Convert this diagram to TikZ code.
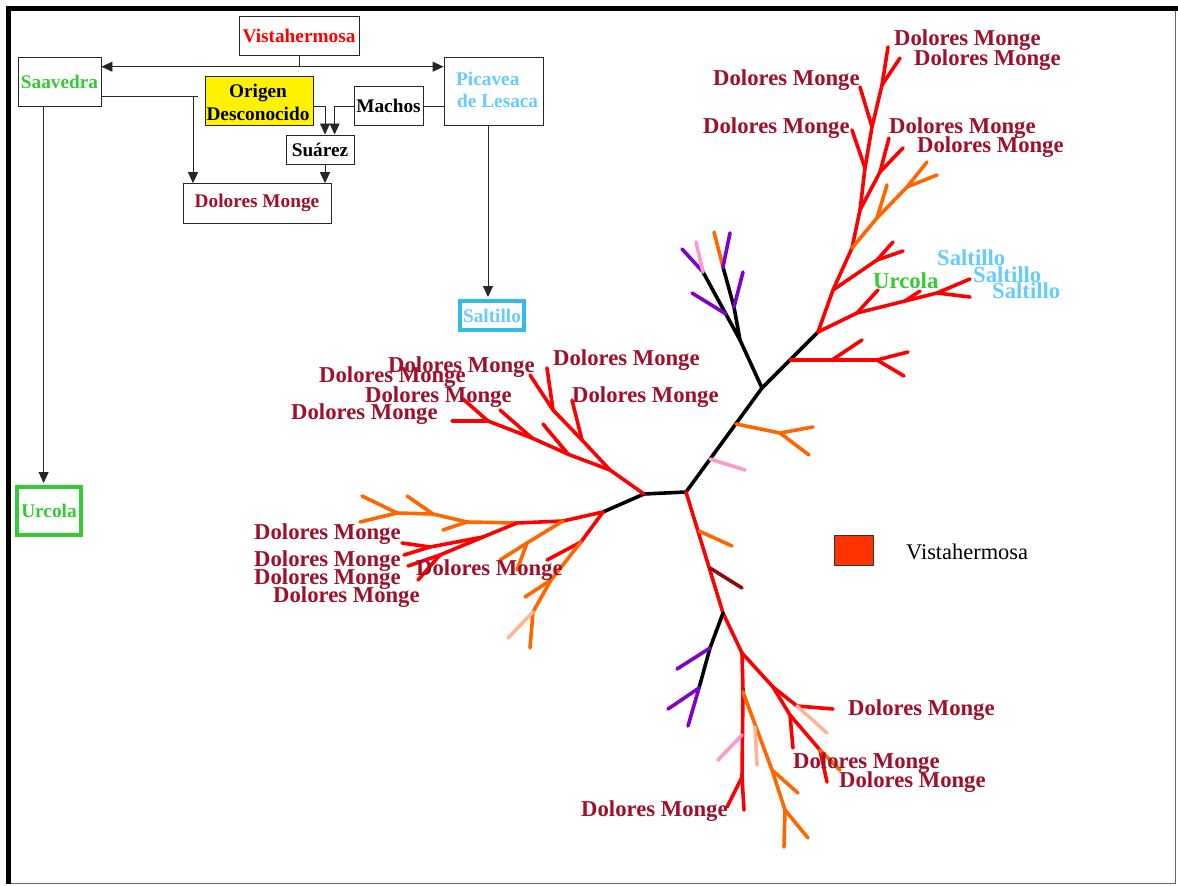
\documentclass[tikz,border=0pt]{standalone}
\usepackage{fontspec}
\setmainfont{Liberation Serif}
\usetikzlibrary{arrows.meta}
\definecolor{dmred}{RGB}{160,16,42}
\definecolor{vred}{RGB}{255,0,0}
\definecolor{sgreen}{RGB}{51,204,51}
\definecolor{lblue}{RGB}{102,204,255}
\definecolor{cyanb}{RGB}{51,187,238}
\definecolor{tred}{RGB}{255,0,0}
\definecolor{torange}{RGB}{255,102,0}
\definecolor{tpurple}{RGB}{128,0,204}
\definecolor{tpink}{RGB}{255,153,204}
\definecolor{tpeach}{RGB}{255,180,150}
\definecolor{tmaroon}{RGB}{140,10,10}
\definecolor{legred}{RGB}{255,51,0}
\begin{document}
\begin{tikzpicture}[x=1pt,y=-1pt,
  fbox/.style={draw=black!85, line width=0.9pt, inner sep=0pt, font=\fontsize{19.3}{22.7}\selectfont\bfseries},
  ftxt/.style={inner sep=0pt, anchor=base west, font=\fontsize{19.3}{22.7}\selectfont\bfseries},
  arr/.style={draw=black!85, line width=0.9pt, -{Triangle[length=11pt,width=10pt]}},
  conn/.style={draw=black!85, line width=0.9pt},
  br/.style={line width=3.6pt, line cap=round, line join=round},
  lab/.style={font=\fontsize{22.7}{24}\selectfont\bfseries, inner sep=0pt, anchor=base west, text=dmred},
]
\useasboundingbox (0,0) rectangle (1178,886);
\fill[white] (0,0) rectangle (1178,886);
% frame
\draw[line width=0.8pt, black!60] (8.5,8.5) rectangle (1175,883);
\draw[line width=4.5pt] (5.5,8.5) -- (1178,8.5);
\draw[line width=4.5pt] (8.5,6) -- (8.5,884);

% ---------- tree ----------
\draw[br, black] (603,512) -- (644,494) -- (686,492) -- (762,388) -- (818,332);
\draw[br, black] (762,388) -- (740,340) -- (703,272);
\draw[br, black] (740,340) -- (734,307) -- (723,267);
\draw[br, tpurple] (703,272) -- (682,249);
\draw[br, tpink] (703,272) -- (696,242);
\draw[br, torange] (723,267) -- (714,232);
\draw[br, tpurple] (723,267) -- (730,233);
\draw[br, tpurple] (726,314) -- (692,293);
\draw[br, tpurple] (734,307) -- (743,272);
\draw[br, torange] (736,424) -- (780,433) -- (813,427);
\draw[br, torange] (780,433) -- (809,455);
\draw[br, tpink] (710,459) -- (745,470);
\draw[br, tred] (790,360) -- (877,360) -- (908,352);
\draw[br, tred] (877,360) -- (904,376);
\draw[br, tred] (832,360) -- (862,340);
% upper right clade
\draw[br, tred] (818,332) -- (833,290) -- (852,248) -- (860,210) -- (865,168) -- (872,127) -- (882,85) -- (888,47);
\draw[br, tred] (833,290) -- (877,260) -- (893,242);
\draw[br, tred] (877,260) -- (903,251);
\draw[br, tred] (860,210) -- (880,172) -- (889,138);
\draw[br, tred] (880,172) -- (903,148);
\draw[br, tred] (865,168) -- (852,130);
\draw[br, tred] (872,127) -- (860,87);
\draw[br, tred] (882,85) -- (900,58);
\draw[br, torange] (852,248) -- (877,218) -- (907,187) -- (927,162);
\draw[br, torange] (907,187) -- (937,175);
\draw[br, torange] (877,218) -- (887,185);
\draw[br, tred] (818,332) -- (857,313) -- (905,301) -- (937,293) -- (970,279);
\draw[br, tred] (937,293) -- (970,297);
\draw[br, tred] (857,313) -- (878,290);
\draw[br, tred] (905,301) -- (920,291);
% upper left clade
\draw[br, tred] (644,494) -- (610,470) -- (570,455) -- (532,438) -- (488,421) -- (452,421);
\draw[br, tred] (488,421) -- (463,399);
\draw[br, tred] (532,438) -- (500,410);
\draw[br, tred] (568,454) -- (543,424);
\draw[br, tred] (610,470) -- (582,440) -- (553,410) -- (530,375);
\draw[br, tred] (553,410) -- (547,368);
\draw[br, tred] (582,440) -- (572,400);
% lower left clade
\draw[br, tred] (603,512) -- (563,521) -- (517,523);
\draw[br, torange] (517,523) -- (467,522) -- (433,514) -- (397,513) -- (362,496);
\draw[br, torange] (397,513) -- (360,522);
\draw[br, torange] (467,522) -- (443,530);
\draw[br, torange] (433,514) -- (407,496);
\draw[br, tred] (517,523) -- (483,537) -- (430,547) -- (402,543);
\draw[br, tred] (430,547) -- (404,555);
\draw[br, tred] (483,537) -- (440,555) -- (408,566);
\draw[br, tred] (440,555) -- (418,580);
\draw[br, torange] (563,521) -- (527,543) -- (500,560);
\draw[br, torange] (527,543) -- (517,570);
\draw[br, tred] (603,512) -- (581,542) -- (547,560);
\draw[br, torange] (581,542) -- (551,580) -- (525,597);
\draw[br, torange] (551,580) -- (533,612) -- (530,648);
\draw[br, tpeach] (533,612) -- (508,638);
% bottom clade
\draw[br, tred] (686,492) -- (723,613) -- (742,653) -- (743,690) -- (742,777) -- (744,810);
\draw[br, torange] (699,531) -- (732,546);
\draw[br, tmaroon] (710,568) -- (742,588);
\draw[br, black] (723,613) -- (710,648) -- (699,688);
\draw[br, tpurple] (710,648) -- (677,669);
\draw[br, tpurple] (699,688) -- (668,709);
\draw[br, tpurple] (699,688) -- (688,726);
\draw[br, tpink] (742,735) -- (718,760);
\draw[br, tred] (742,777) -- (727,807);
\draw[br, torange] (743,692) -- (772,770) -- (785,810) -- (784,847);
\draw[br, torange] (772,770) -- (798,793);
\draw[br, torange] (785,810) -- (808,838);
\draw[br, tpeach] (755,727) -- (757,765);
\draw[br, tred] (742,653) -- (773,687) -- (797,706) -- (833,709);
\draw[br, tpeach] (797,706) -- (827,733);
\draw[br, tred] (773,687) -- (790,715) -- (820,750) -- (827,782);
\draw[br, tred] (790,715) -- (793,748);
\draw[br, torange] (820,750) -- (840,770);

% ---------- tree labels ----------
\node[lab] (l1) at (894,45) {Dolores Monge};
\node[lab] (l2) at (914,65) {Dolores Monge};
\node[lab] (l3) at (713,85) {Dolores Monge};
\node[lab] (l4) at (703,133) {Dolores Monge};
\node[lab] (l5) at (889,133) {Dolores Monge};
\node[lab] (l6) at (917,152) {Dolores Monge};
\node[lab, text=lblue] (s1) at (937,265) {Saltillo};
\node[lab, text=lblue] (s2) at (973,282) {Saltillo};
\node[lab, text=lblue] (s3) at (992,298) {Saltillo};
\node[lab, text=sgreen] (u1) at (873,288) {Urcola};
\node[lab] (l7) at (388,372) {Dolores Monge};
\node[lab] (l8) at (319,382) {Dolores Monge};
\node[lab] (l9) at (365,402) {Dolores Monge};
\node[lab] (l10) at (291,419) {Dolores Monge};
\node[lab] (l11) at (553,365) {Dolores Monge};
\node[lab] (l12) at (572,402) {Dolores Monge};
\node[lab] (l13) at (254,539) {Dolores Monge};
\node[lab] (l14) at (254,566) {Dolores Monge};
\node[lab] (l15) at (254,584) {Dolores Monge};
\node[lab] (l16) at (273,602) {Dolores Monge};
\node[lab] (l17) at (416,575) {Dolores Monge};
\node[lab] (l18) at (848,715) {Dolores Monge};
\node[lab] (l19) at (793,768) {Dolores Monge};
\node[lab] (l20) at (839,787) {Dolores Monge};
\node[lab] (l21) at (581,816) {Dolores Monge};

% ---------- flowchart ----------
\node[fbox, minimum width=120pt, minimum height=39.3pt, text=vred] (vista) at (299,35.7) {Vistahermosa};
\node[fbox, minimum width=83pt, minimum height=49pt, text=sgreen] (saav) at (59.5,81.5) {Saavedra};
\node[fbox, minimum width=99pt, minimum height=68.7pt] (pica) at (493.5,91.3) {};
\node[ftxt, text=lblue] (picat1) at (456,85) {Picavea};
\node[ftxt, text=lblue] (picat2) at (457,107.3) {de Lesaca};
\node[fbox, fill=yellow, minimum width=108pt, minimum height=49.3pt] (origen) at (259,101) {};
\node[ftxt, anchor=base] (origt1) at (258,97.3) {Origen};
\node[ftxt, anchor=base] (origt2) at (258,120) {Desconocido};
\node[fbox, minimum width=69pt, minimum height=39.3pt] (machos) at (388.5,106) {Machos};
\node[fbox, minimum width=68pt, minimum height=29.7pt] (suarez) at (320,149.8) {Suárez};
\node[fbox, minimum width=148pt, minimum height=39.3pt, text=dmred] (dmbox) at (257,203.3) {Dolores Monge};
\node[fbox, draw=cyanb, line width=4pt, minimum width=64pt, minimum height=29pt, text=lblue] (saltbox) at (492,315.5) {Saltillo};
\node[fbox, draw=sgreen, line width=4pt, minimum width=64pt, minimum height=48pt, text=sgreen] (urcbox) at (49,511) {Urcola};

\coordinate (j1) at (299,66.7);
\draw[conn] (vista.south) -- (j1);
\draw[arr] (j1) -- (j1 -| saav.east);
\draw[arr] (j1) -- (j1 -| pica.west);
\coordinate (j2) at (193,96);
\coordinate (j2e) at (198,96);
\draw[conn] (j2 -| saav.east) -- (j2e);
\draw[arr] (j2) -- (j2 |- dmbox.north);
\coordinate (j3) at (325,106);
\coordinate (j4) at (334.6,106);
\draw[arr] (j3 -| origen.east) -- (j3) -- (j3 |- suarez.north);
\draw[arr] (j4 -| machos.west) -- (j4) -- (j4 |- suarez.north);
\draw[conn] (machos.east) -- (machos.east -| pica.west);
\draw[arr] (j3 |- suarez.south) -- (j3 |- dmbox.north);
\coordinate (j5) at (43.6,0);
\draw[arr, shorten >=2pt] (j5 |- saav.south) -- (j5 |- urcbox.north);
\coordinate (j6) at (488,0);
\draw[arr, shorten >=2pt] (j6 |- pica.south) -- (j6 |- saltbox.north);

% ---------- legend ----------
\node[draw=black!80, line width=1pt, fill=legred, minimum width=39pt, minimum height=30pt, inner sep=0pt] (legsq) at (854,550) {};
\node[font=\fontsize{22.4}{24}\selectfont, anchor=base west, inner sep=0pt] (legtxt) at (906,559) {Vistahermosa};
\end{tikzpicture}
\end{document}
